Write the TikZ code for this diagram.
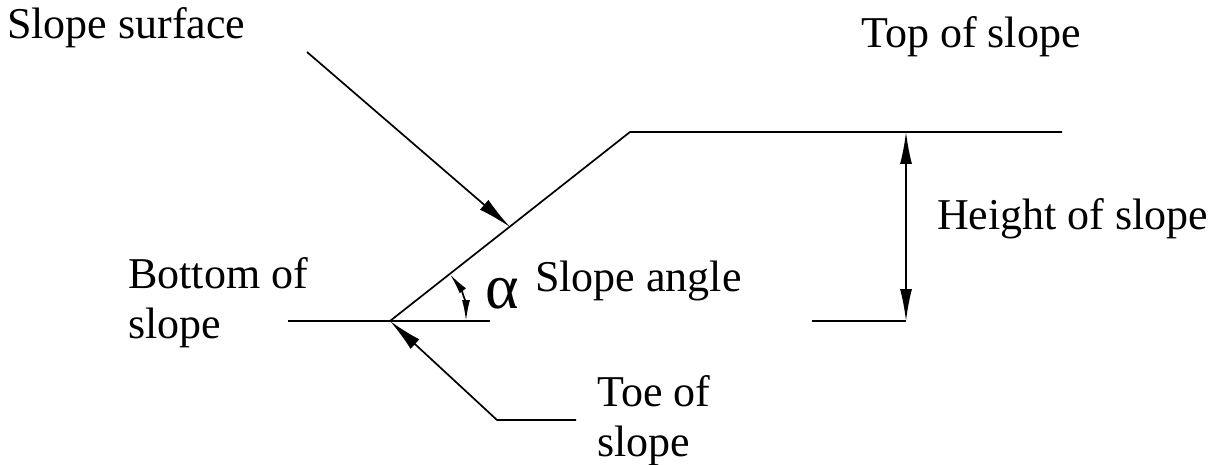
\documentclass[tikz,border=0pt]{standalone}
\usepackage{fontspec}
\setmainfont{Liberation Serif}
\usetikzlibrary{arrows.meta}
\begin{document}
\begin{tikzpicture}[x=1pt,y=-1pt,
  ln/.style={line width=1.7pt,black},
  bigarrow/.style={ln,-{Latex[length=34pt,width=13pt]}},
  dimarrow/.style={ln,{Latex[length=32pt,width=12pt]}-{Latex[length=32pt,width=12pt]}},
  angarrow/.style={ln,{Latex[length=21pt,width=8pt]}-{Latex[length=21pt,width=8pt]}},
  lbl/.style={inner sep=0pt,anchor=base west,font=\fontsize{44}{50}\selectfont}]
\useasboundingbox (0,0) rectangle (1225,465);
% key points
\coordinate (bl) at (288,321);
\coordinate (toe) at (390,321);
\coordinate (br) at (490,321);
\coordinate (crest) at (630,132);
\coordinate (tr) at (1062,132);
\coordinate (hb0) at (812,321);
\coordinate (hb) at (906,321);
\coordinate (ht) at (906,132);
\coordinate (ss0) at (307,52);
\coordinate (ssTip) at (510,227);
\coordinate (toeCorner) at (497,420);
\coordinate (toeEnd) at (576,420);
% ground and slope
\draw[ln] (bl) -- (br);
\draw[ln] (toe) -- (crest) -- (tr);
\draw[ln] (hb0) -- (hb);
% height dimension
\draw[dimarrow] (hb) -- (ht);
% slope surface pointer
\draw[bigarrow] (ss0) -- (ssTip);
% toe pointer
\draw[bigarrow] (toeEnd) -- (toeCorner) -- (toe);
% angle arc
\draw[angarrow] ([shift={(0:76)}]toe) arc[start angle=0,end angle=-38,radius=76];
% labels
\node[lbl] (tSurf) at (7,39) {Slope surface};
\node[lbl] (tTop) at (861,48) {Top of slope};
\node[lbl] (tHeight) at (937,229) {Height of slope};
\node[lbl] (tBottom) at (128,288) {\begin{tabular}[t]{@{}l@{}}Bottom of\\slope\end{tabular}};
\node[lbl] (tAngle) at (535,291) {Slope angle};
\node[lbl] (tToe) at (597,406) {\begin{tabular}[t]{@{}l@{}}Toe of\\slope\end{tabular}};
\node[inner sep=0pt,anchor=base west,font=\fontsize{64}{68}\selectfont] (alpha) at (485,308) {α};
\end{tikzpicture}
\end{document}
